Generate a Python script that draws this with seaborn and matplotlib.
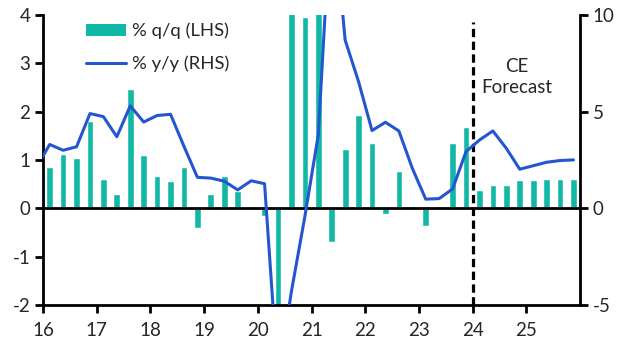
import numpy as np
import pandas as pd
import seaborn as sns
import matplotlib.pyplot as plt
from matplotlib.patches import Patch
from matplotlib.lines import Line2D

# quarterly data, 2016Q1 - 2025Q4 (forecast from 2024Q1)
years = list(range(16, 26))
qq = [0.85, 1.13, 1.03, 1.80,
      0.61, 0.30, 2.47, 1.11,
      0.67, 0.57, 0.85, -0.41,
      0.30, 0.67, 0.36, 0.05,
      -0.16, -8.9, 7.0, 3.96,
      5.2, -0.69, 1.23, 1.93,
      1.35, -0.11, 0.77, 0.05,
      -0.37, 0.05, 1.35, 1.68,
      0.38, 0.48, 0.48, 0.59,
      0.59, 0.61, 0.61, 0.61]
# % y/y, starts at 2015Q4
yy = [2.1,
      3.3, 3.0, 3.18, 4.9,
      4.74, 3.7, 5.3, 4.46,
      4.8, 4.86, 3.2, 1.6,
      1.56, 1.4, 0.95, 1.42,
      1.27, -8.8, -4.3, -0.43,
      3.8, 16.2, 8.7, 6.55,
      4.02, 4.45, 4.0, 2.07,
      0.47, 0.5, 1.0, 2.93,
      3.53, 4.0, 3.1, 2.02,
      2.2, 2.38, 2.47, 2.5]
year_labels = [str(y) for y in years]

teal = "#12B8A6"
blue = "#2456D0"

x_bar = [y + (q - 1) / 4 + 0.125 for y in years for q in range(1, 5)]
x_line = [years[0] - 0.125] + x_bar
bars = pd.DataFrame({"x": x_bar, "qq": qq})
line = pd.DataFrame({"x": x_line, "yy": yy})

sns.set_theme(style="white")
plt.rcParams["font.family"] = ["Lato", "DejaVu Sans"]
plt.rcParams["axes.unicode_minus"] = False

fig = plt.figure(figsize=(6.32, 3.57), dpi=100)
ax = fig.add_axes([0.068, 0.146, 0.85, 0.812])
sns.barplot(data=bars, x="x", y="qq", native_scale=True, width=0.5,
            color=teal, saturation=1, ax=ax, zorder=2)
ax.axhline(0, color="black", lw=2, zorder=3)

ax2 = ax.twinx()
ax2.axvline(24, ymin=0, ymax=0.975, color="black", lw=2.3,
            ls=(0, (2.6, 1.4)), zorder=1)
sns.lineplot(data=line, x="x", y="yy", color=blue, lw=2.2, ax=ax2, zorder=2)

ax.set_xlim(16, 26)
ax.set_ylim(-2, 4)
ax2.set_ylim(-5, 10)
ax.set_xticks(years)
ax.set_xticklabels(year_labels)
ax.set_yticks(range(-2, 5))
ax2.set_yticks([-5, 0, 5, 10])
ax.set_xlabel("")
ax.set_ylabel("")
ax2.set_xlabel("")
ax2.set_ylabel("")

for a in (ax, ax2):
    for s in a.spines.values():
        s.set_visible(False)
        s.set_linewidth(2)
        s.set_color("black")
ax.spines["left"].set_visible(True)
ax.spines["bottom"].set_visible(True)
ax2.spines["right"].set_visible(True)

ax.tick_params(axis="both", which="major", length=6, width=2, color="black",
               labelsize=13.5, direction="out", left=True, bottom=True, pad=3)
ax.tick_params(axis="x", pad=6)
ax2.tick_params(axis="y", length=6, width=2, color="black", labelsize=13.5,
                direction="out", right=True, pad=3)

ax.text(24.82, 2.72, "CE\nForecast", ha="center", va="center",
        fontsize=13.5, linespacing=1.3)

handles = [Patch(facecolor=teal, edgecolor="none"),
           Line2D([], [], color=blue, lw=2.2)]
ax2.legend(handles, ["% q/q (LHS)", "% y/y (RHS)"], loc="upper left",
           bbox_to_anchor=(0.05, 1.03), frameon=False, fontsize=13.3,
           handlelength=2.15, handleheight=0.6, labelspacing=0.85,
           handletextpad=0.3)

fig.savefig("out.png", dpi=100)
